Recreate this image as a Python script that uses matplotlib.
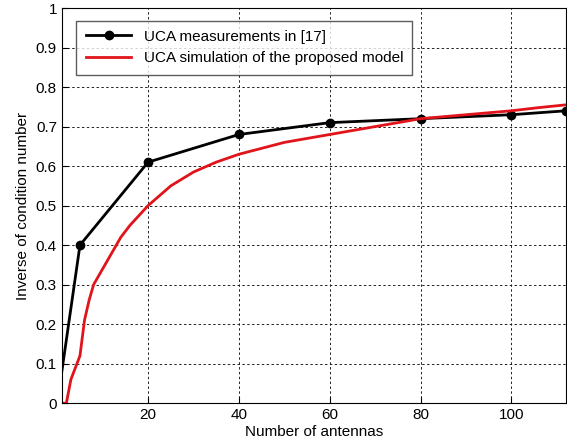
import numpy as np
import matplotlib.pyplot as plt

plt.rcParams["font.family"] = ["Liberation Sans", "DejaVu Sans"]

# measured points
meas_x = [1, 5, 20, 40, 60, 80, 100, 112]
meas_y = [0.08, 0.40, 0.61, 0.68, 0.71, 0.72, 0.73, 0.74]

# simulated curve
sim_x = [1, 2, 3, 4, 5, 6, 7, 8, 10, 12, 14, 16, 18, 20, 25, 30, 35, 40,
         45, 50, 55, 60, 65, 70, 75, 80, 85, 90, 95, 100, 106, 112]
sim_y = [0.0, 0.0, 0.06, 0.09, 0.12, 0.21, 0.26, 0.30, 0.34, 0.38, 0.42,
         0.45, 0.475, 0.50, 0.55, 0.585, 0.61, 0.63, 0.645, 0.66, 0.67,
         0.68, 0.69, 0.70, 0.71, 0.72, 0.725, 0.73, 0.735, 0.74, 0.748, 0.755]


def main():
    fig = plt.figure(figsize=(5.67, 4.47), dpi=100)
    ax = fig.add_axes([0.109, 0.098, 0.889, 0.884])

    ax.plot(meas_x, meas_y, color="black", lw=2, marker="o", ms=6,
            markevery=list(range(1, len(meas_x))),
            label="UCA measurements in [17]")
    ax.plot(sim_x, sim_y, color="#e0141a", lw=2,
            label="UCA simulation of the proposed model")

    ax.set_xlim(1, 112)
    ax.set_ylim(0, 1)
    ax.set_xticks([20, 40, 60, 80, 100])
    ax.set_yticks(np.arange(0, 1.01, 0.1))
    ax.set_yticklabels(["0", "0.1", "0.2", "0.3", "0.4", "0.5", "0.6",
                        "0.7", "0.8", "0.9", "1"])
    ax.grid(True, color="#222222", ls=(0, (2.5, 2.5)), lw=0.7)
    ax.tick_params(direction="in", labelsize=11, length=4)
    ax.set_xlabel("Number of antennas", fontsize=11, labelpad=2)
    ax.set_ylabel("Inverse of condition number", fontsize=11)

    leg = ax.legend(loc="upper left", bbox_to_anchor=(0.02, 0.98),
                    fontsize=11, fancybox=False, edgecolor="#333333",
                    handlelength=3.0, borderaxespad=0.3, labelspacing=0.5,
                    borderpad=0.6)
    leg.get_frame().set_linewidth(1)

    fig.savefig("out.png", dpi=100)


if __name__ == "__main__":
    main()
